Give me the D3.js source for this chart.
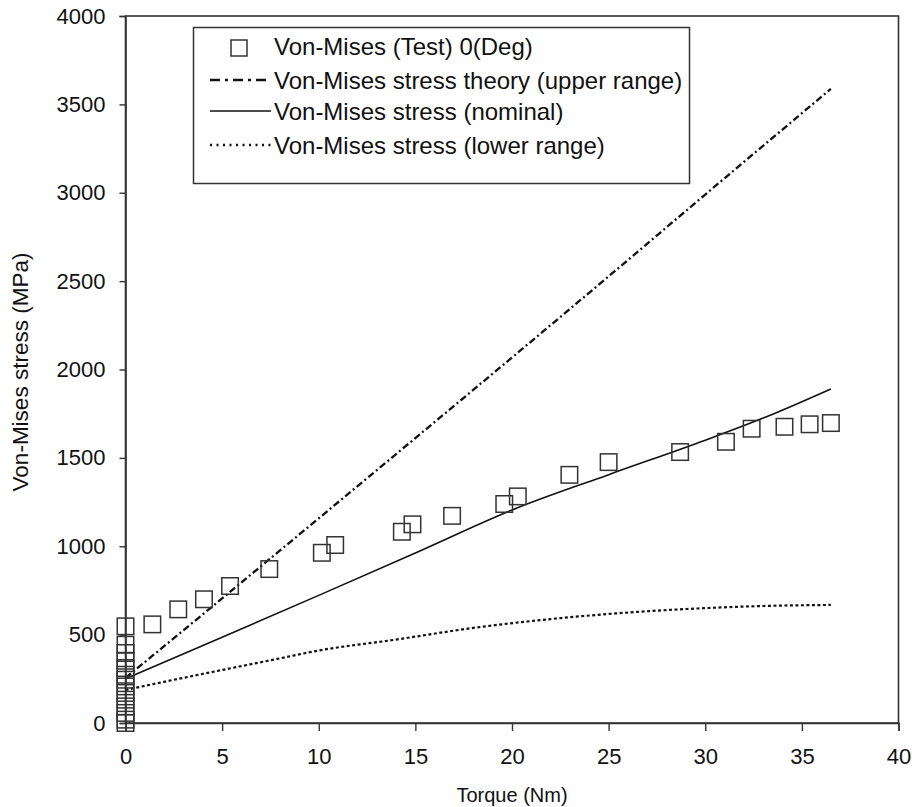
<!DOCTYPE html>
<html>
<head>
<meta charset="utf-8">
<script src="https://cdn.jsdelivr.net/npm/d3@7"></script>
<style>
	body { margin: 0; background: #fff; }
	text { font-family: "Liberation Sans", Arial, sans-serif; fill: #111; }
</style>
</head>
<body>
<div id="canvas"></div>
<script>
var width = 912,
	height = 807;

// test points: torque (Nm) and Von-Mises stress (MPa)
var testTorque = [0, 0, 0, 0, 0, 0, 0, 0, 0, 0, 0, 0, 0, 0,
	1.39, 2.73, 4.06, 5.41, 7.44, 10.16, 10.85, 14.3, 14.85, 16.9, 19.6, 20.3,
	22.97, 25.0, 28.7, 31.07, 32.4, 34.1, 35.4, 36.5];
var testStress = [547, 443, 396, 352, 311, 273, 245, 207, 170, 132, 94, 57, 19, 0,
	558, 643, 700, 775, 871, 963, 1007, 1082, 1124, 1172, 1239, 1282,
	1404, 1476, 1533, 1591, 1665, 1676, 1690, 1697];

var upperTorque = [0, 5, 10, 15, 20, 25, 30, 35, 36.5];
var upperStress = [255, 705, 1158, 1612, 2068, 2527, 2990, 3450, 3588];

var nominalTorque = [0, 5, 10, 15, 20, 25, 30, 33, 36.5];
var nominalStress = [250, 485, 722, 962, 1205, 1405, 1600, 1725, 1890];

var lowerTorque = [0, 2, 5, 8, 10, 14, 18, 22, 26, 30, 33, 36.5];
var lowerStress = [187, 233, 300, 366, 410, 472, 538, 588, 625, 650, 662, 668];

var xTicks = [0, 5, 10, 15, 20, 25, 30, 35, 40];
var yTicks = [0, 500, 1000, 1500, 2000, 2500, 3000, 3500, 4000];

var legendLabels = [
	"Von-Mises (Test) 0(Deg)",
	"Von-Mises stress theory (upper range)",
	"Von-Mises stress (nominal)",
	"Von-Mises stress (lower range)"
];

var plotLeft = 125.5, plotRight = 898.5, plotTop = 16, plotBottom = 723;

var x = d3.scaleLinear().domain([0, 40]).range([plotLeft, plotRight]);
var y = d3.scaleLinear().domain([0, 4000]).range([plotBottom, plotTop]);

var svg = d3.select("#canvas").append("svg")
	.attr("width", width)
	.attr("height", height)
	.style("background-color", "#fff");

var axisColor = "#333";

// frame
svg.append("rect")
	.attr("x", plotLeft).attr("y", plotTop)
	.attr("width", plotRight - plotLeft).attr("height", plotBottom - plotTop)
	.attr("fill", "none")
	.attr("stroke", axisColor)
	.attr("stroke-width", 1.6);

var xAxis = svg.append("g")
	.attr("transform", "translate(0," + plotBottom + ")")
	.call(d3.axisBottom(x).tickValues(xTicks).tickSize(8).tickPadding(17).tickFormat(d3.format("d")));
var yAxis = svg.append("g")
	.attr("transform", "translate(" + plotLeft + ",0)")
	.call(d3.axisLeft(y).tickValues(yTicks).tickSize(6).tickPadding(14).tickFormat(d3.format("d")));

[xAxis, yAxis].forEach(function(g){
	g.select(".domain").attr("stroke", axisColor).attr("stroke-width", 1.6);
	g.selectAll(".tick line").attr("stroke", axisColor).attr("stroke-width", 1.4);
	g.selectAll(".tick text")
		.style("font-family", "Liberation Sans, Arial, sans-serif")
		.style("font-size", "22px")
		.attr("fill", "#111");
});

// axis titles
svg.append("text")
	.attr("x", (plotLeft + plotRight) / 2)
	.attr("y", 802)
	.attr("text-anchor", "middle")
	.style("font-size", "20px")
	.text("Torque (Nm)");

svg.append("text")
	.attr("transform", "translate(28,372) rotate(-90)")
	.attr("text-anchor", "middle")
	.style("font-size", "22.5px")
	.text("Von-Mises stress (MPa)");

function toPoints(xs, ys){
	return xs.map(function(v, i){ return {x: v, y: ys[i]}; });
}

var line = d3.line()
	.x(function(d){ return x(d.x); })
	.y(function(d){ return y(d.y); })
	.curve(d3.curveMonotoneX);

var series = [
	{data: toPoints(upperTorque, upperStress), dash: "7,3,2,3", w: 2.3},
	{data: toPoints(nominalTorque, nominalStress), dash: null, w: 1.6},
	{data: toPoints(lowerTorque, lowerStress), dash: "3,2.5", w: 2.2}
];

series.forEach(function(s){
	svg.append("path")
		.datum(s.data)
		.attr("d", line)
		.attr("fill", "none")
		.attr("stroke", "#111")
		.attr("stroke-width", s.w)
		.attr("stroke-dasharray", s.dash);
});

var sq = 16.5;
svg.selectAll(".pt")
	.data(toPoints(testTorque, testStress))
	.enter()
	.append("rect")
	.classed("pt", true)
	.attr("x", function(d){ return x(d.x) - sq / 2; })
	.attr("y", function(d){ return y(d.y) - sq / 2; })
	.attr("width", sq)
	.attr("height", sq)
	.attr("fill", "none")
	.attr("stroke", "#333")
	.attr("stroke-width", 1.5);

// legend
var legend = svg.append("g");
legend.append("rect")
	.attr("x", 193.5).attr("y", 27.5)
	.attr("width", 496).attr("height", 156)
	.attr("fill", "#fff")
	.attr("stroke", axisColor)
	.attr("stroke-width", 1.5);

var rowY = [46, 80, 111, 145];

legend.append("rect")
	.attr("x", 239 - 8).attr("y", rowY[0] - 6)
	.attr("width", 16).attr("height", 16)
	.attr("fill", "none")
	.attr("stroke", "#333")
	.attr("stroke-width", 1.5);

[1, 2, 3].forEach(function(i){
	legend.append("line")
		.attr("x1", 210).attr("x2", 271)
		.attr("y1", rowY[i]).attr("y2", rowY[i])
		.attr("stroke", "#111")
		.attr("stroke-width", i === 2 ? 1.3 : 2.4)
		.attr("stroke-dasharray", i === 1 ? "10,5,3,5" : (i === 3 ? "2,4.5" : null));
});

legend.selectAll(".ltext")
	.data(legendLabels)
	.enter()
	.append("text")
	.classed("ltext", true)
	.attr("x", 274)
	.attr("y", function(d, i){ return rowY[i] + 8.5; })
	.style("font-size", "24px")
	.text(function(d){ return d; });
</script>
</body>
</html>
